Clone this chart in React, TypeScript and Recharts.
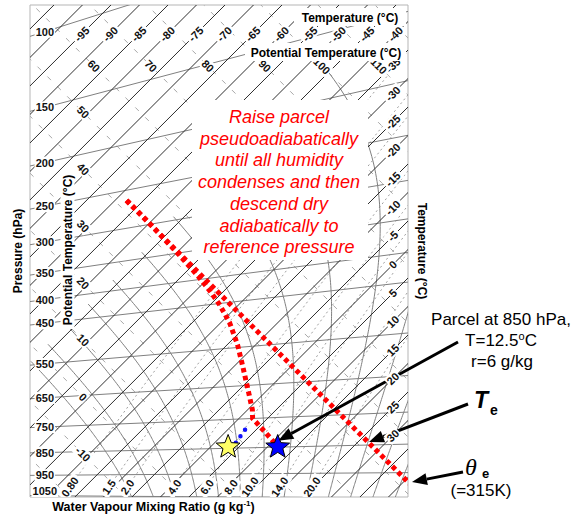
import React from "react";
import {
  ComposedChart,
  Line,
  Scatter,
  XAxis,
  YAxis,
  ReferenceLine,
  ReferenceArea,
} from "recharts";

const FONT = "Arial, 'Liberation Sans', Helvetica, sans-serif";

// rotated tephigram frame: u = T + theta, v = theta - T (both degC)
const U_MIN = -49.7;
const U_MAX = 82.9;
const V_MIN = -3.95;
const V_MAX = 168.7;

const isotherms = [
  -110, -105, -100, -95, -90, -85, -80, -75, -70, -65, -60, -55, -50, -45, -40,
  -35, -30, -25, -20, -15, -10, -5, 0, 5, 10, 15, 20, 25, 30, 35, 40, 45,
];
const isentropes = [-30, -20, -10, 0, 10, 20, 30, 40, 50, 60, 70, 80, 90, 100, 110, 120, 130];
const isobars = [100, 150, 200, 250, 300, 350, 400, 450, 550, 650, 750, 850, 950, 1050];
const mixingRatios = [0.8, 1.5, 2, 4, 6, 8, 10, 14, 20];
const mixingLabels = ["0.80", "1.5", "2.0", "4.0", "6.0", "8.0", "10.0", "14.0", "20.0"];
const wetBulbTemps = [-8, -4, 0, 4, 8, 12, 16, 20, 24, 28, 32, 36, 40];

const topTempLabels = [-95, -90, -85, -80, -75, -70, -65, -60, -55, -50, -45, -40];
const rightTempLabels = [-35, -30, -25, -20, -15, -10, -5, 0, 5, 10, 15, 20, 25, 30];
const thetaTopLabels = [60, 70, 80, 90, 100, 110];
const thetaLeftLabels = [50, 40, 30, 20, 10, 0, -10];

// parcel paths, [T, theta] in degC
const ascentPath: [number, number][] = [
  [-58, 42.2], [-51.5, 42.2], [-45.5, 42.0], [-39, 41.8], [-32, 41.4],
  [-27.5, 40.9], [-23.5, 40.2], [-18.5, 38.8], [-13.2, 36.3], [-8.3, 33.3],
  [-3.4, 30.2], [0.8, 27.5], [2.4, 26.0], [6.9, 25.8], [11.5, 25.5],
];
const descentPath: [number, number][] = [[-58, 42.1], [45, 42.1]];
const dewPath: [number, number][] = [[3.7, 18.8], [2.7, 24.6]];
const parcelStar: [number, number] = [11.8, 25.4];
const dewStar: [number, number] = [3.1, 16.7];

const boxLines = [
  "Raise parcel",
  "pseudoadiabatically",
  "until all humidity",
  "condenses and then",
  "descend dry",
  "adiabatically to",
  "reference pressure",
];

// label anchors in chart units
const TOP_T_V = 158.5;
const RIGHT_T_U = 77.6;
const THETA_TOP_V = 147.3;
const THETA_LEFT_U = -31.1;
const P_LABEL_U = -44.5;
const MIX_LABEL_V = -0.4;

const KAPPA = 0.2857;
const thetaOf = (T: number, p: number) => (T + 273.15) * Math.pow(1000 / p, KAPPA) - 273.15;
const uv = (T: number, th: number) => ({ u: T + th, v: th - T });

const moistRate = (p: number, T: number) => {
  const TK = T + 273.15;
  const es = 6.112 * Math.exp((17.67 * T) / (T + 243.5));
  const rs = (0.622 * es) / (p - es);
  const L = 2.501e6;
  return (287.04 * TK + L * rs) / (p * (1005.7 + (L * L * rs * 0.622) / (287.04 * TK * TK)));
};

const wetAdiabat = (thw: number) => {
  const down: { T: number; p: number }[] = [];
  let Td = thw;
  let pd = 1000;
  while (pd < 1060) {
    const k1 = moistRate(pd, Td);
    const k2 = moistRate(pd + 5, Td + 5 * k1);
    Td += 2.5 * (k1 + k2);
    pd += 5;
    down.push({ T: Td, p: pd });
  }
  let T = thw;
  let p = 1000;
  const up = [{ T, p }];
  while (p > 150 && T > -46) {
    const k1 = moistRate(p, T);
    const k2 = moistRate(p - 5, T - 5 * k1);
    T -= 2.5 * (k1 + k2);
    p -= 5;
    up.push({ T, p });
  }
  return [...down.reverse(), ...up].map((q) => uv(q.T, thetaOf(q.T, q.p)));
};

// saturation over water above 0C, over ice below
const mixingLine = (r: number) => {
  const pts = [];
  for (let p = 1060; p >= 100; p -= 20) {
    const e = (r * p) / (622 + r);
    const a = Math.log(e / 6.112);
    let T = (243.5 * a) / (17.67 - a);
    if (T < 0) T = (272.62 * a) / (22.46 - a);
    pts.push(uv(T, thetaOf(T, p)));
  }
  return pts;
};

const atV = (pts: { u: number; v: number }[], target: number) => {
  for (let i = 1; i < pts.length; i++) {
    const a = pts[i - 1];
    const b = pts[i];
    if ((a.v - target) * (b.v - target) <= 0) {
      const t = (target - a.v) / (b.v - a.v);
      return { u: a.u + t * (b.u - a.u), v: target };
    }
  }
  return pts[0];
};

const isothermData = isotherms.map((T) => [uv(T, -80), uv(T, 220)]);
const isentropeData = isentropes.map((th) => [uv(-170, th), uv(90, th)]);
const isobarData = isobars.map((p) => {
  const pts = [];
  for (let T = -130; T <= 60; T += 10) pts.push(uv(T, thetaOf(T, p)));
  return pts;
});
const mixingData = mixingRatios.map(mixingLine);
const wetData = wetBulbTemps.map(wetAdiabat);

const pressureLabelPts = isobars.map((p) => {
  const f = Math.pow(1000 / p, KAPPA);
  const TK = (P_LABEL_U + 546.3) / (1 + f);
  return { u: P_LABEL_U, v: Math.max(TK * (f - 1), -2.0), text: String(p) };
});
const topTempPts = topTempLabels.map((T) => ({ u: 2 * T + TOP_T_V, v: TOP_T_V, text: String(T) }));
const rightTempPts = rightTempLabels.map((T) => ({ u: RIGHT_T_U, v: RIGHT_T_U - 2 * T, text: String(T) }));
const thetaTopPts = thetaTopLabels.map((th) => ({ u: 2 * th - THETA_TOP_V, v: THETA_TOP_V, text: String(th) }));
const thetaLeftPts = thetaLeftLabels.map((th) => ({ u: THETA_LEFT_U, v: 2 * th - THETA_LEFT_U, text: String(th) }));
const mixingLabelPts = mixingData.map((pts, i) => ({ ...atV(pts, MIX_LABEL_V), text: mixingLabels[i] }));

const toPts = (path: [number, number][]) => path.map(([T, th]) => uv(T, th));

// annotation arrows, chart units
const arrows = [
  { from: { x: 100.44, y: 50.44 }, to: { x: 37.39, y: 15.81 } },
  { from: { x: 103.95, y: 28.68 }, to: { x: 69.21, y: 15.35 } },
  { from: { x: 102.19, y: 4.82 }, to: { x: 84.3, y: 1.32 } },
];

const numLabel = (props: any, rot: number, size = 11) => {
  const { cx, cy, payload } = props;
  if (cx == null || cy == null) return <g />;
  const text: string = payload.text;
  const w = text.length * size * 0.56 + 2;
  const h = size + 1;
  return (
    <g transform={`translate(${cx},${cy}) rotate(${rot})`}>
      <rect x={-w / 2} y={-h / 2} width={w} height={h} fill="#fff" />
      <text
        textAnchor="middle"
        dy={size * 0.36}
        fontSize={size}
        fontWeight="bold"
        fontFamily={FONT}
        fill="#111"
      >
        {text}
      </text>
    </g>
  );
};

const starShape = (fill: string) => (props: any) => {
  const { cx, cy } = props;
  if (cx == null || cy == null) return <g />;
  const R = 12.5;
  const pts = [];
  for (let i = 0; i < 10; i++) {
    const a = ((-90 + i * 36) * Math.PI) / 180;
    const r = i % 2 === 0 ? R : R * 0.43;
    pts.push(`${cx + r * Math.cos(a)},${cy + r * Math.sin(a)}`);
  }
  return <polygon points={pts.join(" ")} fill={fill} stroke="#000" strokeWidth={1} />;
};

const Arrow = (props: any) => {
  const { x1, y1, x2, y2 } = props;
  const ang = Math.atan2(y2 - y1, x2 - x1);
  const len = 15;
  const half = 6;
  const bx = x2 - len * Math.cos(ang);
  const by = y2 - len * Math.sin(ang);
  const px = -Math.sin(ang) * half;
  const py = Math.cos(ang) * half;
  return (
    <g>
      <line x1={x1} y1={y1} x2={bx} y2={by} stroke="#000" strokeWidth={3} />
      <polygon points={`${x2},${y2} ${bx + px},${by + py} ${bx - px},${by - py}`} fill="#000" />
    </g>
  );
};

const gridLine = (data: any[], key: string, stroke: string, dash?: string, width = 1) => (
  <Line
    key={key}
    data={data}
    dataKey="v"
    type="linear"
    stroke={stroke}
    strokeWidth={width}
    strokeDasharray={dash}
    dot={false}
    activeDot={false}
    isAnimationActive={false}
    legendType="none"
  />
);

export default function App() {
  return (
    <div style={{ position: "fixed", left: 0, top: 0, width: 576, height: 524, background: "#fff" }}>
      <ComposedChart width={576} height={524} margin={{ top: 5, right: 168, bottom: 27, left: 30 }}>
        <XAxis type="number" dataKey="u" domain={[U_MIN, U_MAX]} allowDataOverflow hide />
        <YAxis type="number" dataKey="v" domain={[V_MIN, V_MAX]} allowDataOverflow hide />
        {isentropeData.map((d, i) => gridLine(d, `th${i}`, "#a8a8a8", "5 9"))}
        {mixingData.map((d, i) => gridLine(d, `mr${i}`, "#a0a0a0", "2 3"))}
        {isobarData.map((d, i) => gridLine(d, `p${i}`, "#808080"))}
        {wetData.map((d, i) => gridLine(d, `w${i}`, "#808080"))}
        {isothermData.map((d, i) => gridLine(d, `t${i}`, "#2e2e2e"))}
        <ReferenceArea x1={U_MIN} x2={U_MAX} y1={V_MIN} y2={V_MAX} fill="none" stroke="#b5b5b5" ifOverflow="visible" />
        <Scatter data={mixingLabelPts} shape={(p: any) => numLabel(p, -55)} isAnimationActive={false} />
        <Scatter data={pressureLabelPts} shape={(p: any) => numLabel(p, 0)} isAnimationActive={false} />
        <Scatter data={topTempPts} shape={(p: any) => numLabel(p, -45)} isAnimationActive={false} />
        <Scatter data={rightTempPts} shape={(p: any) => numLabel(p, -45)} isAnimationActive={false} />
        <Scatter data={thetaTopPts} shape={(p: any) => numLabel(p, 45)} isAnimationActive={false} />
        <Scatter data={thetaLeftPts} shape={(p: any) => numLabel(p, 45)} isAnimationActive={false} />
        {gridLine(toPts(descentPath), "descent", "#ff0000", "4.5 3.5", 5)}
        {gridLine(toPts(ascentPath), "ascent", "#ff0000", "4.5 3.5", 5)}
        <Line
          data={toPts(dewPath)}
          dataKey="v"
          stroke="#1010ff"
          strokeWidth={4.5}
          strokeLinecap="round"
          strokeDasharray="0 8"
          dot={false}
          activeDot={false}
          isAnimationActive={false}
          legendType="none"
        />
        <Scatter data={[uv(dewStar[0], dewStar[1])]} shape={starShape("#ffff66")} isAnimationActive={false} />
        <Scatter data={[uv(parcelStar[0], parcelStar[1])]} shape={starShape("#0000ff")} isAnimationActive={false} />
        {arrows.map((a, i) => (
          <ReferenceLine key={`a${i}`} segment={[a.from, a.to]} ifOverflow="visible" shape={Arrow} />
        ))}
      </ComposedChart>
      <svg
        width={576}
        height={524}
        style={{ position: "absolute", left: 0, top: 0, pointerEvents: "none" }}
        fontFamily={FONT}
      >
        <rect x={294} y={8} width={112} height={18} fill="#fff" />
        <text x={350} y={21.5} textAnchor="middle" fontSize={12} fontWeight="bold">
          Temperature (°C)
        </text>
        <rect x={245} y={43} width={161} height={18} fill="#fff" />
        <text x={326} y={56.5} textAnchor="middle" fontSize={12} fontWeight="bold">
          Potential Temperature (°C)
        </text>
        <text transform="translate(21.5,251) rotate(-90)" textAnchor="middle" fontSize={12} fontWeight="bold">
          Pressure (hPa)
        </text>
        <g transform="translate(71.5,250) rotate(-90)">
          <rect x={-79} y={-11} width={158} height={14} fill="#fff" />
          <text textAnchor="middle" fontSize={12} fontWeight="bold">
            Potential Temperature (°C)
          </text>
        </g>
        <text transform="translate(417.5,251) rotate(90)" textAnchor="middle" fontSize={12} fontWeight="bold">
          Temperature (°C)
        </text>
        <text x={153.5} y={511} textAnchor="middle" fontSize={12.5} fontWeight="bold">
          Water Vapour Mixing Ratio (g kg
          <tspan fontSize={8} dy={-5}>-1</tspan>
          <tspan dy={5}>)</tspan>
        </text>
        <rect x={192} y={100} width={176} height={160} fill="#fff" />
        {boxLines.map((t, i) => (
          <text
            key={t}
            x={279}
            y={123 + i * 21.7}
            textAnchor="middle"
            fontSize={18}
            fontStyle="italic"
            fill="#ff0000"
          >
            {t}
          </text>
        ))}
        <text x={501} y={325} textAnchor="middle" fontSize={17}>
          Parcel at 850 hPa,
        </text>
        <text x={501} y={346} textAnchor="middle" fontSize={17}>
          T=12.5
          <tspan fontSize={11} dy={-6}>o</tspan>
          <tspan dy={6}>C</tspan>
        </text>
        <text x={502} y={367} textAnchor="middle" fontSize={17}>
          r=6 g/kg
        </text>
        <text x={474} y={408} fontSize={23} fontWeight="bold" fontStyle="italic">
          T
        </text>
        <text x={490} y={415} fontSize={14} fontWeight="bold">
          e
        </text>
        <text x={465} y={475} fontSize={24} fontStyle="italic" fontFamily="'Liberation Serif', 'Times New Roman', serif">
          θ
        </text>
        <text x={482} y={478} fontSize={13} fontWeight="bold">
          e
        </text>
        <text x={481} y={496} textAnchor="middle" fontSize={17}>
          (=315K)
        </text>
      </svg>
    </div>
  );
}
